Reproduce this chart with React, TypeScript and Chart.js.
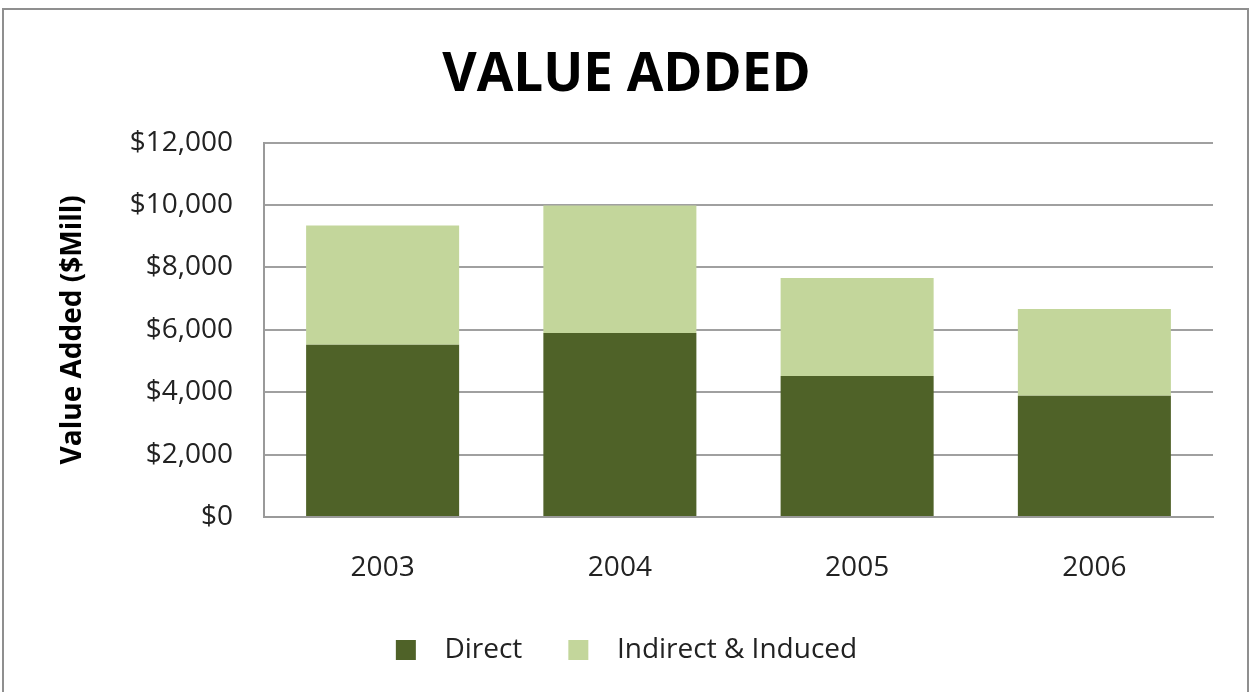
import React, { useEffect, useRef } from "react";
import { Chart, registerables } from "chart.js";

Chart.register(...registerables);

const chartTitle = "VALUE ADDED";
const yAxisTitle = "Value Added ($Mill)";
const years = ["2003", "2004", "2005", "2006"];
const seriesNames = ["Direct", "Indirect & Induced"];
const directValues = [5520, 5900, 4520, 3890];
const indirectValues = [3820, 4080, 3140, 2780];
const yMin = 0;
const yMax = 12000;
const yStep = 2000;
const seriesColors = ["#4F6228", "#C3D69B"];

const FONT = "'Open Sans', 'Noto Sans', sans-serif";

export default function App() {
  const canvasRef = useRef<HTMLCanvasElement | null>(null);

  useEffect(() => {
    const canvas = canvasRef.current;
    if (!canvas) return;
    const baseGen = (Chart.defaults as any).plugins.legend.labels.generateLabels;
    const chart = new Chart(canvas, {
      type: "bar",
      data: {
        labels: years,
        datasets: [
          {
            label: seriesNames[0],
            data: directValues,
            backgroundColor: seriesColors[0],
            borderWidth: 0,
            barPercentage: 0.645,
            categoryPercentage: 1,
          },
          {
            label: seriesNames[1],
            data: indirectValues,
            backgroundColor: seriesColors[1],
            borderWidth: 0,
            barPercentage: 0.645,
            categoryPercentage: 1,
          },
        ],
      },
      options: {
        animation: false,
        responsive: true,
        maintainAspectRatio: false,
        layout: { padding: { left: 40, right: 37, top: 0, bottom: 18 } },
        plugins: {
          title: {
            display: true,
            text: chartTitle,
            color: "#000",
            font: { family: FONT, size: 53, weight: "bold" },
            padding: { top: 44, bottom: 35 },
          },
          legend: {
            display: true,
            position: "bottom",
            labels: {
              boxWidth: 20,
              boxHeight: 20,
              padding: 46,
              color: "#222",
              font: { family: FONT, size: 28 },
              generateLabels: (c: any) =>
                baseGen(c).map((l: any) => ({ ...l, text: "  " + l.text })),
            },
          },
          tooltip: { enabled: false },
        },
        scales: {
          x: {
            stacked: true,
            grid: { display: false, drawTicks: false },
            border: { display: true, color: "#9a9a9a", width: 2 },
            ticks: {
              color: "#222",
              padding: 34,
              font: { family: FONT, size: 28 },
            },
            afterFit: (s: any) => {
              s.height = 73;
            },
          },
          y: {
            stacked: true,
            min: yMin,
            max: yMax,
            grid: { color: "#a0a0a0", lineWidth: 2, drawTicks: false },
            border: { display: true, color: "#9a9a9a", width: 2 },
            ticks: {
              stepSize: yStep,
              color: "#222",
              padding: 31,
              font: { family: FONT, size: 28 },
              callback: (v: any) => "$" + Number(v).toLocaleString("en-US"),
            },
            title: {
              display: true,
              text: yAxisTitle,
              color: "#000",
              font: { family: FONT, size: 28, weight: "bold" },
              padding: { top: 16, bottom: 0 },
            },
            afterFit: (s: any) => {
              s.width = 224;
            },
          },
        },
      },
    });
    return () => chart.destroy();
  }, []);

  return (
    <>
      <div
        style={{
          position: "fixed",
          left: 0,
          top: 0,
          width: 1250,
          height: 692,
          background: "#fff",
        }}
      >
        <canvas ref={canvasRef} />
      </div>
      <div
        style={{
          position: "fixed",
          left: 2,
          top: 8,
          width: 1247,
          height: 720,
          border: "2px solid #8f8f8f",
          boxSizing: "border-box",
          pointerEvents: "none",
        }}
      />
    </>
  );
}
